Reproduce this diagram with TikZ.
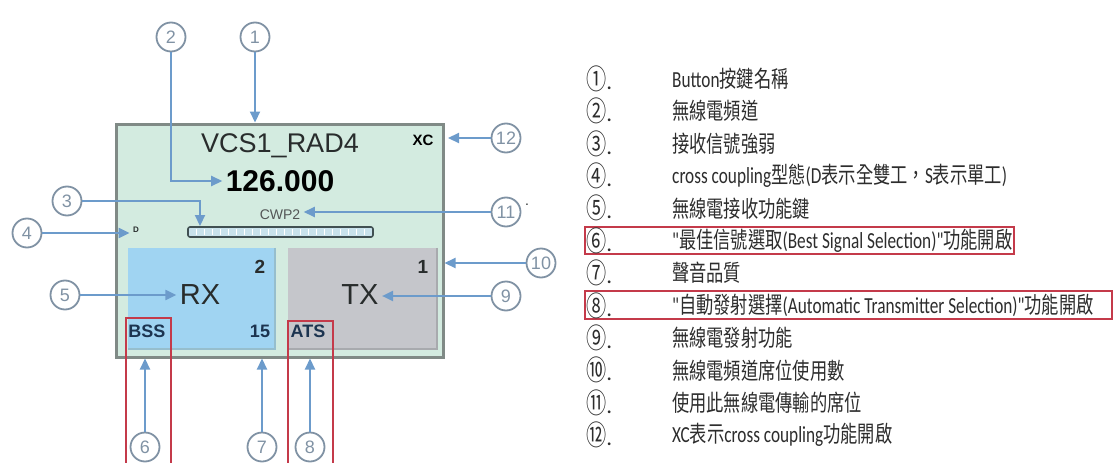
\documentclass[tikz,border=0pt]{standalone}
\usepackage{graphicx}
\usepackage{fontspec}
\usetikzlibrary{arrows.meta}
\setmainfont{Liberation Sans}
\newfontfamily\cjkf{Noto Sans CJK TC}
\newfontfamily\latf{Carlito}
\definecolor{pinblue}{RGB}{108,155,203}
\definecolor{ringgray}{RGB}{128,146,164}
\definecolor{panelfill}{RGB}{211,235,224}
\definecolor{panelline}{RGB}{128,138,134}
\definecolor{rxfill}{RGB}{160,212,242}
\definecolor{rxedge}{RGB}{150,190,205}
\definecolor{txfill}{RGB}{197,198,203}
\definecolor{txedge}{RGB}{168,170,174}
\definecolor{barline}{RGB}{64,80,82}
\definecolor{barfill}{RGB}{200,226,236}
\definecolor{inktext}{RGB}{40,44,44}
\definecolor{navytext}{RGB}{28,52,80}
\definecolor{frame}{RGB}{196,58,74}
\definecolor{listtext}{RGB}{45,45,45}
\newcommand\fsz[1]{\fontsize{#1}{#1}\selectfont}
\newcommand\zh[1]{{\cjkf #1}}
\newcommand\sq[1]{\scalebox{0.75}[1]{#1}}
\newcommand\cnum[1]{{\fsz{28}\scalebox{0.72}[1]{\cjkf #1}}.}

\begin{document}
\begin{tikzpicture}[x=1pt,y=-1pt,
  ring/.style={circle,draw=ringgray,line width=1.8pt,minimum size=29pt,inner sep=0pt,text=ringgray,font=\fsz{18}},
  pin/.style={draw=pinblue,line width=2.2pt,-{Triangle[length=11pt,width=10pt]}},
  keybox/.style={minimum width=#1,minimum height=101pt,inner sep=0pt},
  entry/.style={anchor=west,inner sep=0pt,text=listtext,font=\latf\fsz{23}}]
\useasboundingbox (0,0) rectangle (1114,463);
% panel and keys:
\node[draw=panelline,fill=panelfill,line width=3pt,minimum width=327pt,minimum height=233pt,inner sep=0pt] (panel) at (279.5,240.5) {};
\node[keybox=147pt,fill=rxfill] (rxkey) at (201.5,298.5) {};
\node[keybox=149pt,fill=txfill] (txkey) at (362.5,298.5) {};
\draw[rxedge,line width=2.5pt] (rxkey.north east) -- (rxkey.south east) -- (rxkey.south west);
\draw[txedge,line width=2.5pt] (txkey.north east) -- (txkey.south east) -- (txkey.south west);
% signal bar:
\node[draw=barline,fill=barfill,line width=1.6pt,rounded corners=2pt,minimum width=185pt,minimum height=10pt,inner sep=0pt] (bar) at (280.5,232) {};
\foreach \i in {1,...,22} \draw[white,line width=0.8pt] ({188+\i*8},229) -- ++(0,6);
% panel texts:
\node[text=inktext,font=\fsz{27}] (title) at (280,146) {VCS1\_RAD4};
\node[text=black,font=\bfseries\fsz{30}] (freq) at (280,181) {126.000};
\node[text=inktext!80,font=\fsz{14}] (cwp) at (280,215) {CWP2};
\node[text=black,font=\bfseries\fsz{15}] (xc) at (423,140) {XC};
\node[text=inktext,font=\bfseries\fsz{8}] (dmark) at (136,230) {D};
\node[text=inktext,font=\bfseries\fsz{19}] (rxcount) at (260,267) {2};
\node[text=inktext,font=\bfseries\fsz{19}] (txcount) at (423,267) {1};
\node[text=inktext,font=\fsz{29}] (rx) at (200,295) {RX};
\node[text=inktext,font=\fsz{29}] (tx) at (360,295) {TX};
\node[text=navytext,font=\bfseries\fsz{18}] (bss) at (147,331) {BSS};
\node[text=navytext,font=\bfseries\fsz{18}] (quality) at (260,331) {15};
\node[text=navytext,font=\bfseries\fsz{18}] (ats) at (308,331) {ATS};
% callout rings:
\node[ring] (c1) at (255,37) {1};
\node[ring] (c2) at (171,37) {2};
\node[ring] (c3) at (67,201) {3};
\node[ring] (c4) at (27,233) {4};
\node[ring] (c5) at (65,295) {5};
\node[ring] (c6) at (145,447) {6};
\node[ring] (c7) at (262,447) {7};
\node[ring] (c8) at (310,447) {8};
\node[ring] (c9) at (506,296) {9};
\node[ring] (c10) at (541,263) {10};
\node[ring] (c11) at (506,212) {11};
\node[ring] (c12) at (506,138) {12};
\node[text=inktext,font=\fsz{14}] (stray) at (527,205) {.};
\coordinate (bartap) at (200,226);
\coordinate (xctip) at (448,138);
% callout arrows:
\draw[pin] (c1) -- (c1 |- panel.north);
\draw[pin] (c2) |- (freq.west);
\draw[pin] (c3) -| (bartap);
\draw[pin] (c4) -- (c4 -| dmark.west);
\draw[pin] (c5) -- (c5 -| rx.west);
\draw[pin] (c6) -- (c6 |- panel.south);
\draw[pin] (c7) -- (c7 |- panel.south);
\draw[pin] (c8) -- (c8 |- panel.south);
\draw[pin] (c9) -- (c9 -| tx.east);
\draw[pin] (c10) -- (c10 -| panel.east);
\draw[pin] (c11) -- (c11 -| cwp.east);
\draw[pin] (c12) -- (xctip);
% red frames:
\path[draw=frame,line width=1.3pt] (126,470) |- (171,318) -- (171,470);
\path[draw=frame,line width=1.3pt] (288,470) |- (333,321) -- (333,470);
\path[draw=frame,line width=1.3pt] (585,227) rectangle (1014,254);
\path[draw=frame,line width=1.3pt] (585,291) rectangle (1112,319);
% legend:
\node[entry] (n1) at (586,78.7) {\cnum{①}};
\node[entry] (n2) at (586,111.1) {\cnum{②}};
\node[entry] (n3) at (586,143.5) {\cnum{③}};
\node[entry] (n4) at (586,175.9) {\cnum{④}};
\node[entry] (n5) at (586,208.3) {\cnum{⑤}};
\node[entry] (n6) at (586,240.7) {\cnum{⑥}};
\node[entry] (n7) at (586,273.1) {\cnum{⑦}};
\node[entry] (n8) at (586,305.5) {\cnum{⑧}};
\node[entry] (n9) at (586,337.9) {\cnum{⑨}};
\node[entry] (n10) at (586,370.3) {\cnum{⑩}};
\node[entry] (n11) at (586,402.7) {\cnum{⑪}};
\node[entry] (n12) at (586,435.1) {\cnum{⑫}};
\node[entry] (t1) at (672,78.7) {\sq{Button\zh{按鍵名稱}}};
\node[entry] (t2) at (672,111.1) {\sq{\zh{無線電頻道}}};
\node[entry] (t3) at (672,143.5) {\sq{\zh{接收信號強弱}}};
\node[entry] (t4) at (672,175.9) {\sq{cross coupling\zh{型態}(D\zh{表示全雙工，}S\zh{表示單工})}};
\node[entry] (t5) at (672,208.3) {\sq{\zh{無線電接收功能鍵}}};
\node[entry] (t6) at (672,240.7) {\sq{"\zh{最佳信號選取}(Best Signal Selection)"\zh{功能開啟}}};
\node[entry] (t7) at (672,273.1) {\sq{\zh{聲音品質}}};
\node[entry] (t8) at (672,305.5) {\sq{"\zh{自動發射選擇}(Automatic Transmitter Selection)"\zh{功能開啟}}};
\node[entry] (t9) at (672,337.9) {\sq{\zh{無線電發射功能}}};
\node[entry] (t10) at (672,370.3) {\sq{\zh{無線電頻道席位使用數}}};
\node[entry] (t11) at (672,402.7) {\sq{\zh{使用此無線電傳輸的席位}}};
\node[entry] (t12) at (672,435.1) {\sq{XC\zh{表示}cross coupling\zh{功能開啟}}};
\end{tikzpicture}
\end{document}
